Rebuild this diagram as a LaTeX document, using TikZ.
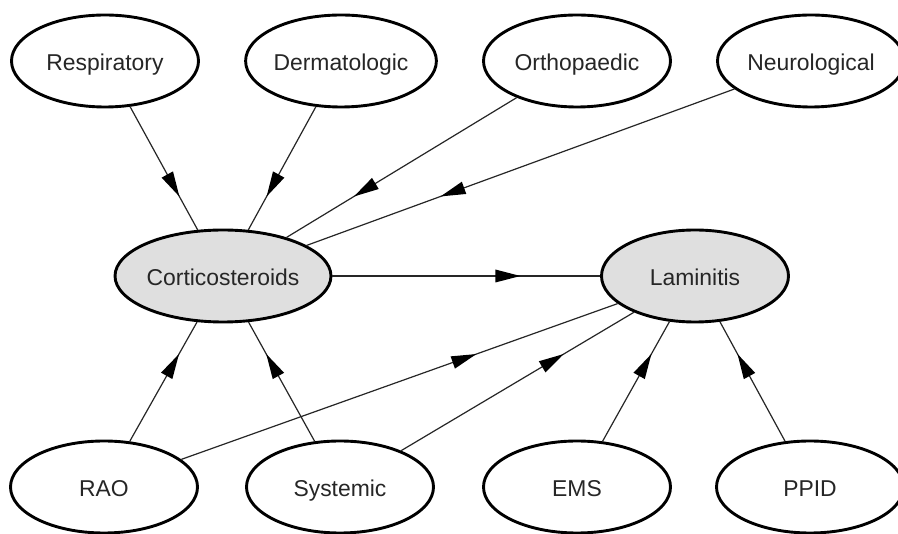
\documentclass[tikz,border=0pt]{standalone}
\usepackage{fontspec}
\setmainfont{Liberation Sans}
\usetikzlibrary{shapes.geometric,decorations.markings}
\begin{document}
\begin{tikzpicture}[x=1pt,y=-1pt,
  var/.style={ellipse, draw, line width=2.9pt, minimum width=187pt, minimum height=92pt,
    inner sep=0pt, fill=white, text height=19pt, text depth=0pt,
    font=\fontsize{22.9}{27}\selectfont, text=black!85},
  mainvar/.style={var, fill=gray!25},
  link/.style={line width=1.2pt, draw=black!85},
  midarrow/.style={decoration={markings, mark=at position 0.63 with
    {\fill (0pt,0pt) -- (-25pt,6.5pt) -- (-25pt,-6.5pt) -- cycle;}}, postaction={decorate}}
]
\useasboundingbox (0,0) rectangle (898,534);
\fill[white] (0,0) rectangle (898,534);

\node[var] (resp) at (105,61) {Respiratory};
\node[var] (derm) at (341,61) {Dermatologic};
\node[var] (orth) at (577,61) {Orthopaedic};
\node[var] (neur) at (811,61) {Neurological};
\node[mainvar] (cort) at (223,276) {Corticosteroids};
\node[mainvar] (lam) at (695,276) {Laminitis};
\node[var] (rao) at (104,487) {RAO};
\node[var] (sys) at (340,487) {Systemic};
\node[var] (ems) at (577,487) {EMS};
\node[var] (ppid) at (810,487) {PPID};

\foreach \a/\b in {resp/cort, derm/cort, orth/cort, neur/cort, cort/lam,
                   rao/cort, sys/cort, rao/lam, sys/lam, ems/lam, ppid/lam} {
  \draw[link] (\a) -- (\b);
  \path[midarrow] (\a.center) -- (\b.center);
}
\end{tikzpicture}
\end{document}
